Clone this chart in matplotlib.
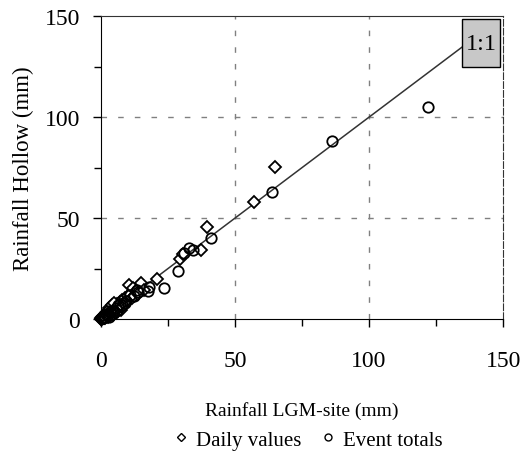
import numpy as np
import matplotlib.pyplot as plt
import matplotlib.patches as patches
from matplotlib.ticker import MultipleLocator
from matplotlib.lines import Line2D

plt.rcParams['font.family'] = ['Liberation Serif', 'DejaVu Serif']

# daily values (diamonds)
daily_lgm = [0.0, 0.1, 0.2, 0.3, 0.4, 0.5, 0.6, 0.8, 1.0, 1.0, 1.2, 1.4, 1.5, 1.8,
             2.0, 2.0, 2.3, 2.5, 2.6, 2.8, 3.0, 3.0, 3.2, 3.5, 3.6, 3.8, 4.0,
             4.0, 4.2, 4.5, 4.6, 4.8, 5.0, 5.0, 5.2, 5.5, 5.6, 5.8, 6.0, 6.2,
             6.3, 6.8, 7.0, 7.2, 7.5, 8.0, 8.5, 9.0, 9.5, 10.0, 10.4, 11.0,
             11.5, 12.0, 12.5, 13.0, 14.0, 15.0, 16.0, 21.0, 29.5, 30.6, 37.3,
             39.6, 57.0, 65.0, 1.5, 2.5, 3.5, 4.5, 5.5, 6.5, 7.5, 8.0, 3.0, 4.0, 5.0]
daily_hollow = [0.2, 0.0, 0.6, 0.1, 1.0, 0.4, 1.3, 0.6, 1.6, 0.5, 1.0, 2.0, 1.2, 2.6,
                1.5, 3.0, 2.0, 3.5, 1.8, 2.4, 4.0, 2.2, 3.0, 4.6, 2.8, 3.4, 5.2,
                3.0, 4.0, 5.8, 3.6, 4.4, 6.4, 4.0, 5.0, 7.0, 4.6, 5.6, 7.6, 5.0,
                6.0, 6.8, 8.4, 5.8, 7.2, 9.2, 8.0, 10.2, 8.8, 11.5, 17.0, 12.5,
                10.5, 15.5, 11.5, 14.0, 12.5, 18.0, 14.5, 20.0, 29.7, 32.0, 34.0,
                45.5, 58.0, 75.5, 0.3, 0.8, 1.5, 2.2, 3.0, 3.8, 4.6, 6.0, 5.5, 6.8, 8.2]

# event totals (circles)
event_lgm = [0.3, 0.8, 1.5, 2.0, 2.8, 3.5, 4.0, 4.5, 5.0, 5.5, 6.0, 6.5, 7.0, 8.0,
             9.0, 9.5, 11.0, 12.5, 13.5, 14.0, 17.5, 18.0, 23.5, 28.7, 31.0,
             33.0, 34.5, 41.0, 63.8, 86.0, 122.0, 1.0, 2.5, 3.0]
event_hollow = [0.5, 0.4, 1.2, 2.4, 2.0, 3.5, 2.6, 4.2, 3.8, 5.5, 4.6, 6.8, 7.5, 7.0,
                7.8, 9.0, 12.0, 11.5, 14.5, 13.5, 14.0, 16.0, 15.3, 23.8, 32.5,
                35.0, 34.0, 40.0, 62.9, 88.0, 105.0, 2.0, 3.8, 1.0]

ticks = [0, 50, 100, 150]

fig = plt.figure(figsize=(5.23, 4.77), dpi=100)
ax = fig.add_axes([0.193, 0.329, 0.769, 0.635])

ax.set_xlim(0, 150)
ax.set_ylim(0, 150)
ax.set_xticks(ticks)
ax.set_yticks(ticks)
ax.xaxis.set_minor_locator(MultipleLocator(25))
ax.yaxis.set_minor_locator(MultipleLocator(25))
ax.tick_params(which='major', direction='out', length=6, width=1, labelsize=17)
ax.tick_params(axis='x', which='major', pad=16)
ax.tick_params(axis='y', which='major', pad=9)
ax.tick_params(which='minor', direction='out', length=5, width=1)

# grid
for v in [50, 100]:
    ax.axvline(v, color='#808080', lw=1, ls=(0, (4, 8)), zorder=0)
    ax.axhline(v, color='#808080', lw=1, ls=(0, (4, 8)), zorder=0)
ax.spines['top'].set_color('#333333')
ax.spines['right'].set_linestyle((0, (6, 2)))
ax.spines['right'].set_color('#333333')

# 1:1 line and label box
ax.plot([0, 134.7], [0, 134.7], color='#333333', lw=1.1, zorder=2)
ax.add_patch(patches.Rectangle((134.7, 124.8), 14.2, 23.7, facecolor='#c8c8c8',
                               edgecolor='black', lw=1, zorder=4))
ax.text(141.8, 136.6, '1:1', fontsize=17.5, ha='center', va='center', zorder=5)

ax.plot(daily_lgm, daily_hollow, ls='', marker='D', ms=6.5, mfc='white', mec='black',
        mew=1.3, clip_on=False, zorder=3)
ax.plot(event_lgm, event_hollow, ls='', marker='o', ms=7.5, mfc='none', mec='black',
        mew=1.3, clip_on=False, zorder=3)

ax.set_xlabel('Rainfall LGM-site (mm)', fontsize=14, labelpad=22)
ax.set_ylabel('Rainfall Hollow (mm)', fontsize=16.5, labelpad=8)

handles = [Line2D([], [], ls='', marker='D', ms=4.5, mfc='white', mec='black', mew=1),
           Line2D([], [], ls='', marker='o', ms=5, mfc='white', mec='black', mew=1)]
fig.legend(handles, ['Daily values', 'Event totals'], loc='center',
           bbox_to_anchor=(0.59, 0.076), ncol=2, frameon=False, fontsize=15,
           handlelength=0.6, handletextpad=0.4, columnspacing=1.0)

fig.savefig('out.png', dpi=100)
